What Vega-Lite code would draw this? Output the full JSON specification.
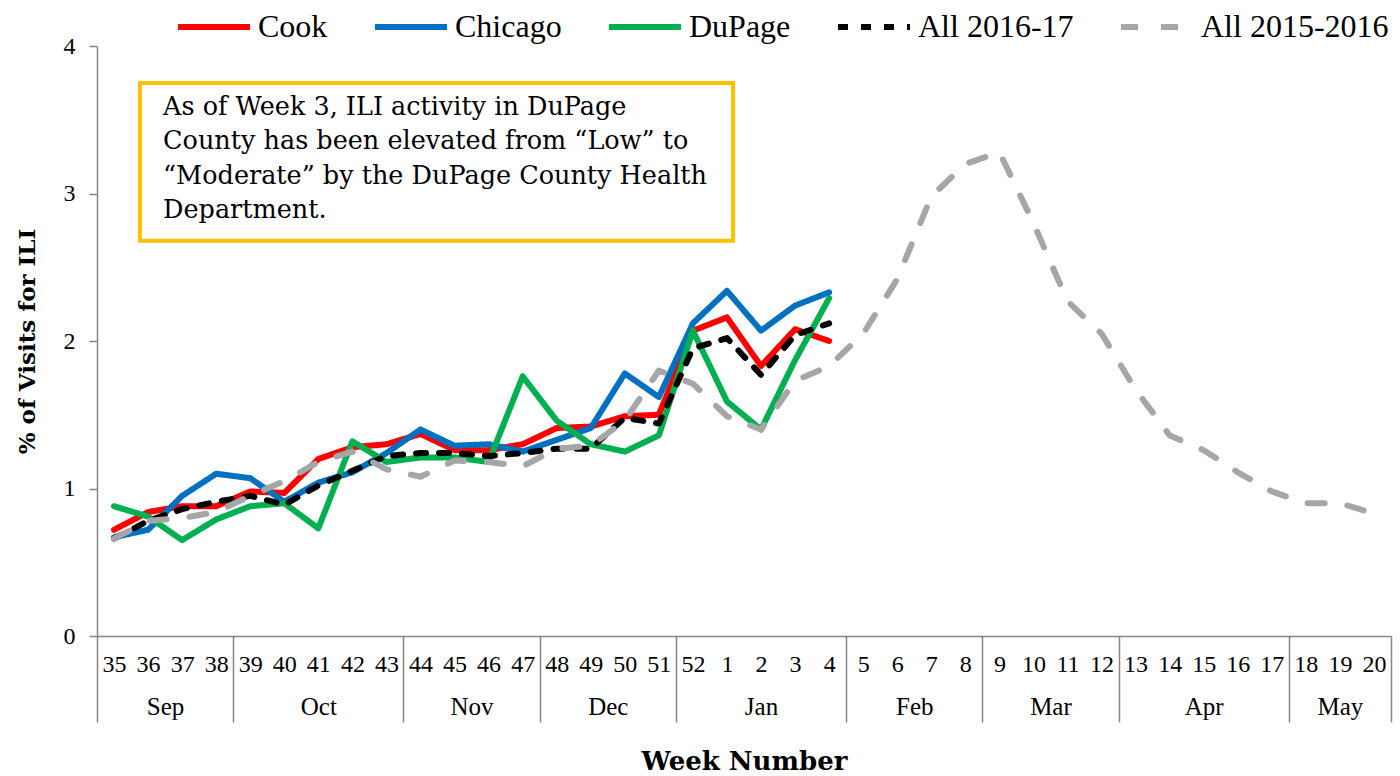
{
  "$schema": "https://vega.github.io/schema/vega-lite/v6.json",
  "width": 1294,
  "height": 590,
  "autosize": {"type": "none"},
  "padding": {"left": 97, "top": 46, "right": 9, "bottom": 140},
  "config": {"view": {"stroke": null}, "font": "Liberation Serif"},
  "resolve": {"scale": {"x": "independent"}, "axis": {"x": "independent"}},
  "layer": [
    {
      "data": {"values": [
        {"series":"Cook","week":35,"pct":0.72},{"series":"Cook","week":36,"pct":0.84},{"series":"Cook","week":37,"pct":0.88},{"series":"Cook","week":38,"pct":0.88},{"series":"Cook","week":39,"pct":0.98},{"series":"Cook","week":40,"pct":0.97},{"series":"Cook","week":41,"pct":1.20},{"series":"Cook","week":42,"pct":1.28},{"series":"Cook","week":43,"pct":1.30},{"series":"Cook","week":44,"pct":1.37},{"series":"Cook","week":45,"pct":1.26},{"series":"Cook","week":46,"pct":1.26},{"series":"Cook","week":47,"pct":1.30},{"series":"Cook","week":48,"pct":1.41},{"series":"Cook","week":49,"pct":1.42},{"series":"Cook","week":50,"pct":1.49},{"series":"Cook","week":51,"pct":1.50},{"series":"Cook","week":52,"pct":2.07},{"series":"Cook","week":1,"pct":2.16},{"series":"Cook","week":2,"pct":1.83},{"series":"Cook","week":3,"pct":2.08},{"series":"Cook","week":4,"pct":2.00},
        {"series":"Chicago","week":35,"pct":0.67},{"series":"Chicago","week":36,"pct":0.72},{"series":"Chicago","week":37,"pct":0.95},{"series":"Chicago","week":38,"pct":1.10},{"series":"Chicago","week":39,"pct":1.07},{"series":"Chicago","week":40,"pct":0.91},{"series":"Chicago","week":41,"pct":1.04},{"series":"Chicago","week":42,"pct":1.11},{"series":"Chicago","week":43,"pct":1.24},{"series":"Chicago","week":44,"pct":1.40},{"series":"Chicago","week":45,"pct":1.29},{"series":"Chicago","week":46,"pct":1.30},{"series":"Chicago","week":47,"pct":1.25},{"series":"Chicago","week":48,"pct":1.33},{"series":"Chicago","week":49,"pct":1.41},{"series":"Chicago","week":50,"pct":1.78},{"series":"Chicago","week":51,"pct":1.62},{"series":"Chicago","week":52,"pct":2.12},{"series":"Chicago","week":1,"pct":2.34},{"series":"Chicago","week":2,"pct":2.07},{"series":"Chicago","week":3,"pct":2.24},{"series":"Chicago","week":4,"pct":2.33},
        {"series":"DuPage","week":35,"pct":0.88},{"series":"DuPage","week":36,"pct":0.81},{"series":"DuPage","week":37,"pct":0.65},{"series":"DuPage","week":38,"pct":0.79},{"series":"DuPage","week":39,"pct":0.88},{"series":"DuPage","week":40,"pct":0.90},{"series":"DuPage","week":41,"pct":0.73},{"series":"DuPage","week":42,"pct":1.32},{"series":"DuPage","week":43,"pct":1.18},{"series":"DuPage","week":44,"pct":1.21},{"series":"DuPage","week":45,"pct":1.21},{"series":"DuPage","week":46,"pct":1.18},{"series":"DuPage","week":47,"pct":1.76},{"series":"DuPage","week":48,"pct":1.46},{"series":"DuPage","week":49,"pct":1.30},{"series":"DuPage","week":50,"pct":1.25},{"series":"DuPage","week":51,"pct":1.36},{"series":"DuPage","week":52,"pct":2.07},{"series":"DuPage","week":1,"pct":1.59},{"series":"DuPage","week":2,"pct":1.40},{"series":"DuPage","week":3,"pct":1.87},{"series":"DuPage","week":4,"pct":2.29},
        {"series":"All 2016-17","week":35,"pct":0.66},{"series":"All 2016-17","week":36,"pct":0.78},{"series":"All 2016-17","week":37,"pct":0.86},{"series":"All 2016-17","week":38,"pct":0.91},{"series":"All 2016-17","week":39,"pct":0.95},{"series":"All 2016-17","week":40,"pct":0.89},{"series":"All 2016-17","week":41,"pct":1.02},{"series":"All 2016-17","week":42,"pct":1.12},{"series":"All 2016-17","week":43,"pct":1.22},{"series":"All 2016-17","week":44,"pct":1.24},{"series":"All 2016-17","week":45,"pct":1.24},{"series":"All 2016-17","week":46,"pct":1.22},{"series":"All 2016-17","week":47,"pct":1.24},{"series":"All 2016-17","week":48,"pct":1.27},{"series":"All 2016-17","week":49,"pct":1.27},{"series":"All 2016-17","week":50,"pct":1.48},{"series":"All 2016-17","week":51,"pct":1.44},{"series":"All 2016-17","week":52,"pct":1.95},{"series":"All 2016-17","week":1,"pct":2.02},{"series":"All 2016-17","week":2,"pct":1.77},{"series":"All 2016-17","week":3,"pct":2.04},{"series":"All 2016-17","week":4,"pct":2.12},
        {"series":"All 2015-2016","week":35,"pct":0.66},{"series":"All 2015-2016","week":36,"pct":0.78},{"series":"All 2015-2016","week":37,"pct":0.80},{"series":"All 2015-2016","week":38,"pct":0.84},{"series":"All 2015-2016","week":39,"pct":0.95},{"series":"All 2015-2016","week":40,"pct":1.05},{"series":"All 2015-2016","week":41,"pct":1.18},{"series":"All 2015-2016","week":42,"pct":1.25},{"series":"All 2015-2016","week":43,"pct":1.13},{"series":"All 2015-2016","week":44,"pct":1.08},{"series":"All 2015-2016","week":45,"pct":1.19},{"series":"All 2015-2016","week":46,"pct":1.18},{"series":"All 2015-2016","week":47,"pct":1.15},{"series":"All 2015-2016","week":48,"pct":1.27},{"series":"All 2015-2016","week":49,"pct":1.29},{"series":"All 2015-2016","week":50,"pct":1.46},{"series":"All 2015-2016","week":51,"pct":1.80},{"series":"All 2015-2016","week":52,"pct":1.71},{"series":"All 2015-2016","week":1,"pct":1.49},{"series":"All 2015-2016","week":2,"pct":1.40},{"series":"All 2015-2016","week":3,"pct":1.73},{"series":"All 2015-2016","week":4,"pct":1.83},{"series":"All 2015-2016","week":5,"pct":2.05},{"series":"All 2015-2016","week":6,"pct":2.42},{"series":"All 2015-2016","week":7,"pct":2.98},{"series":"All 2015-2016","week":8,"pct":3.20},{"series":"All 2015-2016","week":9,"pct":3.28},{"series":"All 2015-2016","week":10,"pct":2.80},{"series":"All 2015-2016","week":11,"pct":2.27},{"series":"All 2015-2016","week":12,"pct":2.05},{"series":"All 2015-2016","week":13,"pct":1.67},{"series":"All 2015-2016","week":14,"pct":1.36},{"series":"All 2015-2016","week":15,"pct":1.26},{"series":"All 2015-2016","week":16,"pct":1.11},{"series":"All 2015-2016","week":17,"pct":0.98},{"series":"All 2015-2016","week":18,"pct":0.90},{"series":"All 2015-2016","week":19,"pct":0.90},{"series":"All 2015-2016","week":20,"pct":0.83}
      ]},
      "mark": {"type": "line", "strokeWidth": 6, "strokeCap": "round", "strokeJoin": "round"},
      "encoding": {
        "x": {
          "field": "week", "type": "ordinal",
          "sort": [35,36,37,38,39,40,41,42,43,44,45,46,47,48,49,50,51,52,1,2,3,4,5,6,7,8,9,10,11,12,13,14,15,16,17,18,19,20],
          "scale": {"type": "point", "padding": 0.5},
          "axis": {"title": null, "ticks": false, "domainColor": "#868686", "domainWidth": 1.5, "labelFont": "Liberation Serif", "labelFontSize": 24, "labelColor": "#000000", "labelPadding": 16, "labelAngle": 0, "labelOverlap": false, "labelBound": false}
        },
        "y": {
          "field": "pct", "type": "quantitative",
          "scale": {"domain": [0, 4], "nice": false},
          "axis": {"title": "% of Visits for ILI", "values": [0,1,2,3,4], "format": "d", "grid": false, "tickSize": 8, "tickColor": "#868686", "tickWidth": 1.5, "domainColor": "#868686", "domainWidth": 1.5, "labelFont": "Liberation Serif", "labelFontSize": 24, "labelColor": "#000000", "labelPadding": 14, "titleFont": "DejaVu Serif", "titleFontWeight": "bold", "titleFontSize": 23, "titleColor": "#000000", "titlePadding": 24}
        },
        "color": {
          "field": "series", "type": "nominal",
          "scale": {"domain": ["Cook","Chicago","DuPage","All 2016-17","All 2015-2016"], "range": ["#FF0000","#0070C0","#00B050","#000000","#A6A6A6"]},
          "legend": {"orient": "none", "legendX": 78, "legendY": -58, "direction": "horizontal", "title": null, "symbolType": "stroke", "symbolSize": 5184, "symbolStrokeWidth": 6, "labelFont": "Liberation Serif", "labelFontSize": 32, "labelColor": "#000000", "labelOffset": 5, "labelLimit": 400, "columnPadding": 35, "padding": 0}
        },
        "strokeDash": {
          "field": "series", "type": "nominal",
          "scale": {"domain": ["Cook","Chicago","DuPage","All 2016-17","All 2015-2016"], "range": [[1,0],[1,0],[1,0],[10,13],[17,23]]},
          "legend": {"orient": "none", "legendX": 78, "legendY": -58, "direction": "horizontal", "title": null, "symbolType": "stroke", "symbolSize": 5184, "symbolStrokeWidth": 6, "labelFont": "Liberation Serif", "labelFontSize": 32, "labelColor": "#000000", "labelOffset": 5, "labelLimit": 400, "columnPadding": 35, "padding": 0}
        }
      }
    },
    {
      "data": {"values": [{"note": "As of Week 3, ILI activity in DuPage\nCounty has been elevated from “Low” to\n“Moderate” by the DuPage County Health\nDepartment."}]},
      "mark": {"type": "rect", "fill": "#FFFFFF", "stroke": "#FFC000", "strokeWidth": 4},
      "encoding": {
        "x": {"datum": 1.26, "type": "quantitative", "scale": {"domain": [0, 38], "nice": false, "zero": false},
          "axis": {"orient": "bottom", "values": [0,4,9,13,17,22,26,30,35,38], "labels": false, "tickSize": 86, "tickColor": "#868686", "tickWidth": 1.5, "domain": false, "grid": false, "title": null}},
        "x2": {"datum": 18.68},
        "y": {"datum": 3.75, "type": "quantitative", "scale": {"domain": [0, 4], "nice": false}},
        "y2": {"datum": 2.68}
      }
    },
    {
      "data": {"values": [{"note": "As of Week 3, ILI activity in DuPage\nCounty has been elevated from “Low” to\n“Moderate” by the DuPage County Health\nDepartment."}]},
      "mark": {"type": "text", "align": "left", "baseline": "top", "font": "DejaVu Serif", "fontSize": 25.5, "lineHeight": 34.5, "lineBreak": "\n", "color": "#000000"},
      "encoding": {
        "x": {"datum": 1.94, "type": "quantitative", "scale": {"domain": [0, 38], "nice": false, "zero": false},
          "axis": {"orient": "bottom", "values": [2,6.5,11,15,19.5,24,28,32.5,36.5], "labelExpr": "['Sep','Oct','Nov','Dec','Jan','Feb','Mar','Apr','May'][indexof([2,6.5,11,15,19.5,24,28,32.5,36.5], datum.value)]", "ticks": false, "domain": false, "grid": false, "labelPadding": 58, "labelFont": "Liberation Serif", "labelFontSize": 25, "labelColor": "#000000", "labelBaseline": "top", "title": "Week Number", "titleFont": "DejaVu Serif", "titleFontWeight": "bold", "titleFontSize": 26, "titleColor": "#000000", "titlePadding": 29}},
        "y": {"datum": 3.67, "type": "quantitative", "scale": {"domain": [0, 4], "nice": false}},
        "text": {"field": "note"}
      }
    }
  ]
}
